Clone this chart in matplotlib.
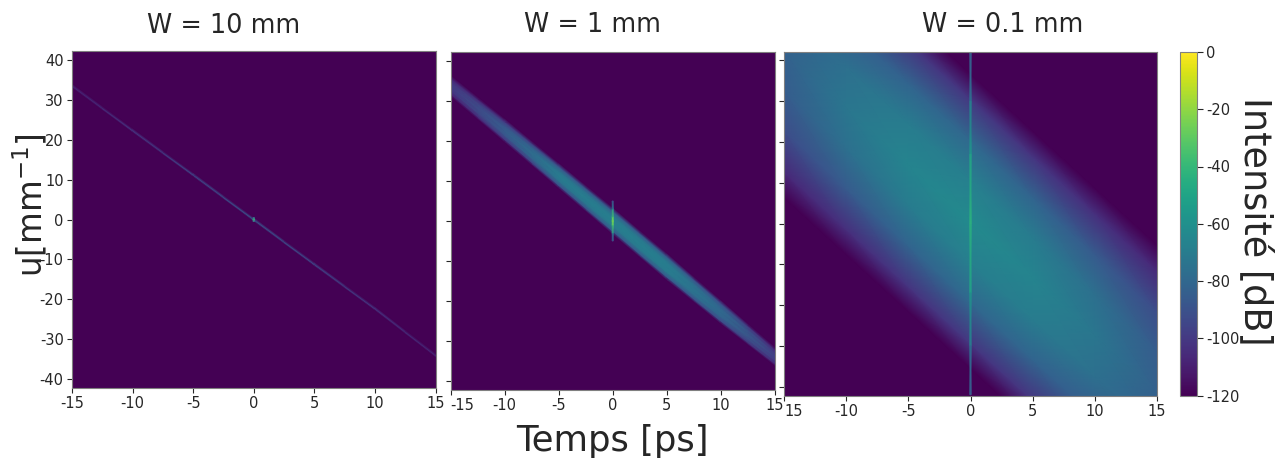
import numpy as np
import matplotlib
matplotlib.use("Agg")
import matplotlib.pyplot as plt
from matplotlib.colors import Normalize
from matplotlib.cm import ScalarMappable

W, H = 1283, 462
plt.rcParams['font.family'] = ['DejaVu Sans']
plt.rcParams['mathtext.fontset'] = 'dejavusans'
plt.rcParams['axes.unicode_minus'] = False

titles = ["W = 10 mm", "W = 1 mm", "W = 0.1 mm"]
x_ticks = [-15, -10, -5, 0, 5, 10, 15]
y_ticks = [40, 30, 20, 10, 0, -10, -20, -30, -40]
cbar_ticks = [0, -20, -40, -60, -80, -100, -120]

# W = 10 mm : thin line, dB across it
t_thin = [-15, -10, -5, 0, 5, 10, 15]
u_thin = [33.5, 22.3, 11.2, 0, -11.2, -22.3, -34]
off_thin = [-0.45, 0, 0.45]
db_thin = [
    [-120, -120, -120, -120, -120, -120, -120],
    [-108, -102, -95, -90, -95, -102, -108],
    [-120, -120, -120, -120, -120, -120, -120],
]
spot_u = [-0.5, 0, 0.5]
spot_db = [-90, -40, -90]

# W = 1 mm : band, dB across it, offsets as a fraction of the half width
t_band = [-15, -10, -5, 0, 5, 10, 15]
u_band = [33.7, 22.6, 11.3, 0, -11.4, -22.7, -33.8]
half_band = [2.6, 2.9, 3.1, 3.3, 3.3, 2.9, 2.3]
off_band = [-1, -0.75, -0.4, 0, 0.4, 0.75, 1]
db_band = [
    [-120, -120, -120, -120, -120, -120, -120],
    [-108, -100, -90, -86, -86, -92, -106],
    [-101, -88, -74, -71, -71, -82, -99],
    [-99, -85, -70, -68, -69, -79, -97],
    [-101, -88, -74, -71, -71, -82, -99],
    [-108, -100, -90, -86, -86, -92, -106],
    [-120, -120, -120, -120, -120, -120, -120],
]
spike_u = [-5, -3, -1, 0, 1, 3, 5]
spike_db = [-100, -70, -35, -24, -35, -70, -100]

# W = 0.1 mm : wide band, same idea
t_map = [-15, -10, -5, 0, 5, 10, 15]
u_map = [42.5, 28.5, 14.5, 0.5, -13.5, -27.5, -41.5]
off_map = [-36, -30, -20, -10, 0, 10, 20, 30, 36]
db_map = [
    [-120, -120, -120, -120, -120, -120, -120],
    [-106, -104, -102, -101, -102, -104, -106],
    [-92, -86, -82, -80, -82, -86, -92],
    [-85, -76, -70, -68, -70, -76, -85],
    [-83, -73, -66, -63, -66, -73, -83],
    [-85, -76, -70, -68, -70, -76, -85],
    [-92, -86, -82, -80, -82, -86, -92],
    [-106, -104, -102, -101, -102, -104, -106],
    [-120, -120, -120, -120, -120, -120, -120],
]
line_u = [42, 30, 17, 0, -17, -30, -42]
line_db = [-90, -75, -55, -42, -55, -75, -90]

norm = Normalize(-120, 0)
cmap = plt.get_cmap("viridis")
text_col = "#262626"
edge_col = "#808080"


def px_axes(x0, y0, x1, y1):
    # rectangle given in picture pixels, y going down
    return fig.add_axes([x0 / W, 1 - y1 / H, (x1 - x0) / W, (y1 - y0) / H])


def band(ax, t, centre, off, db, half=1.0):
    T = np.array([t] * len(off), dtype=float)
    U = np.array(centre)[None, :] + np.array(off)[:, None] * np.array(half)
    ax.pcolormesh(T, U, np.array(db), cmap=cmap, norm=norm, shading="gouraud")


def spike(ax, u, db, half):
    # narrow vertical stripe at t = 0
    T, U = np.meshgrid([-half, half], u)
    C = np.column_stack([db, db])
    ax.pcolormesh(T, U, C, cmap=cmap, norm=norm, shading="gouraud")


def style(ax, left_labels=False):
    ax.set_facecolor(cmap(0.0))
    ax.set_xlim(-15, 15)
    ax.set_ylim(-42.2, 42.2)
    ax.set_xticks(x_ticks)
    ax.set_yticks(y_ticks)
    ax.tick_params(labelsize=10.5, colors=text_col, pad=2.5, length=3.5, width=0.8)
    if not left_labels:
        ax.set_yticklabels([])
    for s in ax.spines.values():
        s.set_color(edge_col)


fig = plt.figure(figsize=(W / 100, H / 100), dpi=100)

ax1 = px_axes(72, 51, 435.5, 388)
ax2 = px_axes(450.7, 52, 774.7, 390)
ax3 = px_axes(784, 51.5, 1157, 395.5)

band(ax1, t_thin, u_thin, off_thin, db_thin)
spike(ax1, spot_u, spot_db, 0.05)
band(ax2, t_band, u_band, off_band, db_band, half_band)
spike(ax2, spike_u, spike_db, 0.04)
band(ax3, t_map, u_map, off_map, db_map)
spike(ax3, line_u, line_db, 0.04)

style(ax1, left_labels=True)
style(ax2)
style(ax3)

# the first labels of panels 2 and 3 sit to the right of their tick
ax2.get_xticklabels()[0].set_horizontalalignment("left")
lab3 = [str(v) for v in x_ticks]
lab3[0] = "15"
ax3.set_xticks(x_ticks, lab3)
ax3.get_xticklabels()[0].set_horizontalalignment("left")

cax = px_axes(1180, 52, 1197, 395.5)
cb = fig.colorbar(ScalarMappable(norm=norm, cmap=cmap), cax=cax)
cb.set_ticks(cbar_ticks)
cb.ax.tick_params(labelsize=10.5, colors=text_col, pad=2.5, length=4, width=0.8)
cb.outline.set_edgecolor(edge_col)

title_x = [224, 592, 1003]
title_y = [26, 25, 25]
for name, tx, ty in zip(titles, title_x, title_y):
    fig.text(tx / W, 1 - ty / H, name, fontsize=18.4, color=text_col, ha="center", va="center")

fig.text(612 / W, 1 - 441 / H, "Temps [ps]", fontsize=25.5, color=text_col, ha="center", va="center")
fig.text(30 / W, 1 - 205 / H, "u[mm$^{-1}$]", fontsize=23.5, color=text_col, ha="center",
         va="center", rotation=90)
fig.text(1255 / W, 1 - 221 / H, "Intensité [dB]", fontsize=26.4, color=text_col, ha="center",
         va="center", rotation=270)

fig.savefig("out.png", dpi=100)
